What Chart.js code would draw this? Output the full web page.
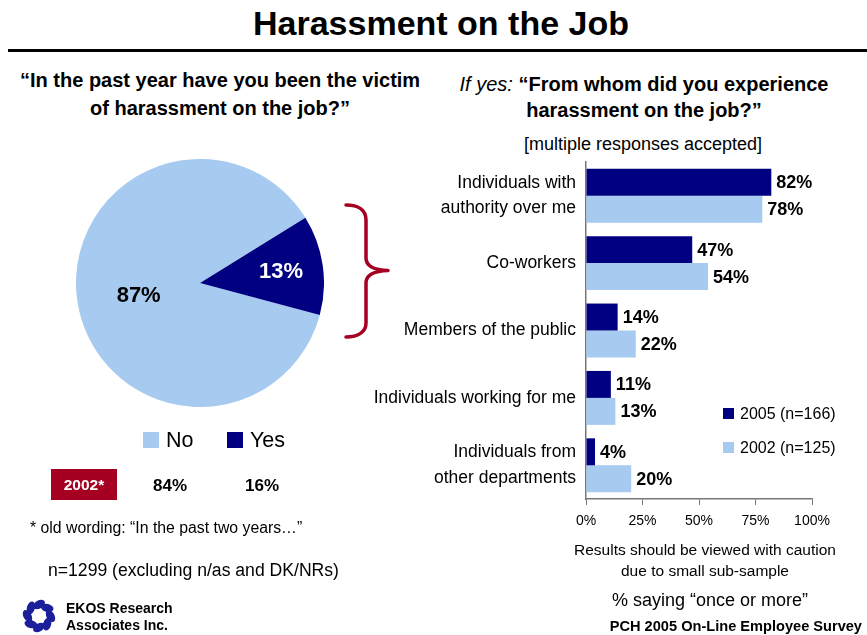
<!DOCTYPE html>
<html>
<head>
<meta charset="utf-8">
<title>Harassment on the Job</title>
<script src="https://cdn.jsdelivr.net/npm/chart.js@4.4.0/dist/chart.umd.min.js"></script>
<style>
  html, body { margin: 0; padding: 0; background: #fff; }
  #page { position: relative; width: 867px; height: 635px; overflow: hidden; background: #fff;
          font-family: 'Liberation Sans', Arial, Helvetica, sans-serif; color: #000; }
  .t { position: absolute; white-space: nowrap; }
  .c { text-align: center; }
  .b { font-weight: bold; }
  canvas { position: absolute; }
  .sw { position: absolute; }
</style>
</head>
<body>
<div id="page">
  <div class="t c b" style="left:241px; width:400px; top:3px; line-height:40px; font-size:34px;">Harassment on the Job</div>
  <div style="position:absolute; left:8px; right:0; top:49px; height:3px; background:#000;"></div>

  <div class="t c b" style="left:20px; width:400px; top:66px; line-height:28px; font-size:20px;">“In the past year have you been the victim<br>of harassment on the job?”</div>

  <div class="t c" style="left:444px; width:400px; top:71px; line-height:26px; font-size:20px;"><i>If yes:</i> <b>“From whom did you experience</b><br><b>harassment on the job?”</b></div>
  <div class="t c" style="left:443px; width:400px; top:133px; line-height:22px; font-size:18px;">[multiple responses accepted]</div>

  <canvas id="pie" width="248" height="248" style="left:76px; top:159px;"></canvas>

  <svg style="position:absolute; left:0; top:0;" width="867" height="635">
    <path d="M346,205 C358,205 366,210 366,220 L366,258 C366,266 374,270 388,270.5 C374,271 366,275 366,283 L366,323 C366,332 358,337 346,337"
          fill="none" stroke="#A50021" stroke-width="3.5" stroke-linecap="round" stroke-linejoin="round"/>
  </svg>

  <div class="t" style="left:30px; top:517px; line-height:22px; font-size:15.8px;">* old wording: “In the past two years…”</div>
  <div class="t" style="left:48px; top:559px; line-height:22px; font-size:17.6px;">n=1299 (excluding n/as and DK/NRs)</div>

  <svg style="position:absolute; left:20px; top:597px;" width="38" height="38" viewBox="-19 -19 38 38">
    <g id="logoRing" fill="#1b1f9a"></g>
    <circle r="6.5" fill="#fff"/>
  </svg>
  <div class="t b" style="left:66px; top:600px; line-height:17px; font-size:14px;">EKOS Research<br>Associates Inc.</div>

  <canvas id="bars" width="507" height="380" style="left:360px; top:155px;"></canvas>

  <div class="t c" style="left:555px; width:300px; top:539px; line-height:21px; font-size:15.5px;">Results should be viewed with caution<br>due to small sub-sample</div>
  <div class="t c" style="left:560px; width:300px; top:589px; line-height:22px; font-size:18px;">% saying “once or more”</div>
  <div class="t b" style="right:5px; top:617px; line-height:18px; font-size:14.6px;">PCH 2005 On-Line Employee Survey</div>
</div>

<script>
// ---- data ----
const pieLabels = ['No', 'Yes'];
const pieValues2005 = [87, 13];
const pieValues2002 = [84, 16];
const priorLabel = '2002*';

const sourceLabels = [
  ['Individuals with', 'authority over me'],
  'Co-workers',
  'Members of the public',
  'Individuals working for me',
  ['Individuals from', 'other departments']
];
const seriesNames = ['2005 (n=166)', '2002 (n=125)'];
const values2005 = [82, 47, 14, 11, 4];
const values2002 = [78, 54, 22, 13, 20];
const xTickLabels = ['0%', '25%', '50%', '75%', '100%'];

// ---- styling ----
const NAVY = '#000080';
const LIGHT = '#A6CAF0';
const FONT = "'Liberation Sans', Arial, Helvetica, sans-serif";

// ---- pie ----
const pieLabelStyle = [
  { r: 0.5,  dy: 4, color: '#000' },
  { r: 0.66, dy: 1, color: '#fff' }
];
const pieValueLabels = {
  id: 'pieValueLabels',
  afterDatasetsDraw(chart) {
    const ctx = chart.ctx;
    const meta = chart.getDatasetMeta(0);
    ctx.save();
    ctx.font = 'bold 22px ' + FONT;
    ctx.textAlign = 'center';
    ctx.textBaseline = 'middle';
    meta.data.forEach((arc, i) => {
      const p = arc.getProps(['x', 'y', 'startAngle', 'endAngle', 'outerRadius'], true);
      const mid = (p.startAngle + p.endAngle) / 2;
      const st = pieLabelStyle[i];
      const rr = p.outerRadius * st.r;
      ctx.fillStyle = st.color;
      ctx.fillText(chart.data.datasets[0].data[i] + '%', p.x + Math.cos(mid) * rr, p.y + Math.sin(mid) * rr + st.dy);
    });
    ctx.restore();
  }
};

new Chart(document.getElementById('pie'), {
  type: 'pie',
  data: {
    labels: pieLabels,
    datasets: [{ data: pieValues2005, backgroundColor: [LIGHT, NAVY], borderWidth: 0 }]
  },
  options: {
    responsive: false,
    animation: false,
    rotation: 105,
    layout: { padding: 0 },
    plugins: { legend: { display: false }, tooltip: { enabled: false } }
  },
  plugins: [pieValueLabels]
});

// pie legend, the 2002 comparison row, bar legend and logo
(function () {
  const page = document.getElementById('page');
  const colors = [LIGHT, NAVY];
  const legendX = [143, 227];
  const rowX = [170, 262];
  pieLabels.forEach((lab, i) => {
    const sw = document.createElement('div');
    sw.className = 'sw';
    sw.style.cssText = `left:${legendX[i]}px; top:432px; width:16px; height:16px; background:${colors[i]};`;
    page.appendChild(sw);
    const tx = document.createElement('div');
    tx.className = 't';
    tx.style.cssText = `left:${legendX[i] + 23}px; top:426px; line-height:28px; font-size:21.5px;`;
    tx.textContent = lab;
    page.appendChild(tx);

    const v = document.createElement('div');
    v.className = 't c b';
    v.style.cssText = `left:${rowX[i] - 40}px; width:80px; top:474px; line-height:24px; font-size:17px;`;
    v.textContent = pieValues2002[i] + '%';
    page.appendChild(v);
  });
  const box = document.createElement('div');
  box.className = 't c b';
  box.style.cssText = 'left:51px; top:469px; width:66px; height:31px; line-height:31px; font-size:15.5px; background:#A50021; color:#fff;';
  box.textContent = priorLabel;
  page.appendChild(box);

  const barColors = [NAVY, LIGHT];
  seriesNames.forEach((name, i) => {
    const y = 408 + i * 34;
    const sw = document.createElement('div');
    sw.className = 'sw';
    sw.style.cssText = `left:723px; top:${y}px; width:11px; height:11px; background:${barColors[i]};`;
    page.appendChild(sw);
    const tx = document.createElement('div');
    tx.className = 't';
    tx.style.cssText = `left:740px; top:${y - 5}px; line-height:22px; font-size:16px;`;
    tx.textContent = name;
    page.appendChild(tx);
  });

  const ring = document.getElementById('logoRing');
  for (let k = 0; k < 8; k++) {
    const a = k * Math.PI / 4;
    const cx = (Math.cos(a) * 11.5).toFixed(2);
    const cy = (Math.sin(a) * 11.5).toFixed(2);
    const c = document.createElementNS('http://www.w3.org/2000/svg', 'ellipse');
    c.setAttribute('cx', cx);
    c.setAttribute('cy', cy);
    c.setAttribute('rx', '6.5');
    c.setAttribute('ry', '4');
    c.setAttribute('transform', `rotate(${k * 45 + 60} ${cx} ${cy})`);
    ring.appendChild(c);
  }
})();

// ---- horizontal bars ----
const barValueLabels = {
  id: 'barValueLabels',
  afterDatasetsDraw(chart) {
    const ctx = chart.ctx;
    ctx.save();
    ctx.font = 'bold 18px ' + FONT;
    ctx.fillStyle = '#000';
    ctx.textAlign = 'left';
    ctx.textBaseline = 'middle';
    chart.data.datasets.forEach((ds, di) => {
      chart.getDatasetMeta(di).data.forEach((bar, i) => {
        ctx.fillText(ds.data[i] + '%', bar.x + 5, bar.y + 1);
      });
    });
    ctx.restore();
  }
};

new Chart(document.getElementById('bars'), {
  type: 'bar',
  data: {
    labels: sourceLabels,
    datasets: [
      { label: seriesNames[0], data: values2005, backgroundColor: NAVY },
      { label: seriesNames[1], data: values2002, backgroundColor: LIGHT }
    ]
  },
  options: {
    indexAxis: 'y',
    responsive: false,
    animation: false,
    categoryPercentage: 0.8,
    barPercentage: 1.0,
    layout: { padding: { top: 7, right: 55, bottom: 0, left: 0 } },
    scales: {
      x: {
        min: 0, max: 100,
        ticks: {
          stepSize: 25,
          color: '#000',
          padding: 8,
          font: { family: FONT, size: 14 },
          callback: (v, i) => xTickLabels[i]
        },
        grid: { drawOnChartArea: false, drawTicks: true, tickLength: 6, color: '#777' },
        border: { display: true, color: '#777', width: 1.5 },
        afterFit: s => { s.height = 36; s.paddingLeft = 0; s.paddingRight = 0; }
      },
      y: {
        ticks: {
          color: '#000',
          padding: 10,
          font: { family: FONT, size: 17.5, lineHeight: 1.45 }
        },
        grid: { drawOnChartArea: false, drawTicks: false },
        border: { display: true, color: '#777', width: 1.5 },
        afterFit: s => { s.width = 226; s.paddingTop = 0; s.paddingBottom = 0; }
      }
    },
    plugins: { legend: { display: false }, tooltip: { enabled: false } }
  },
  plugins: [barValueLabels]
});
</script>
</body>
</html>
